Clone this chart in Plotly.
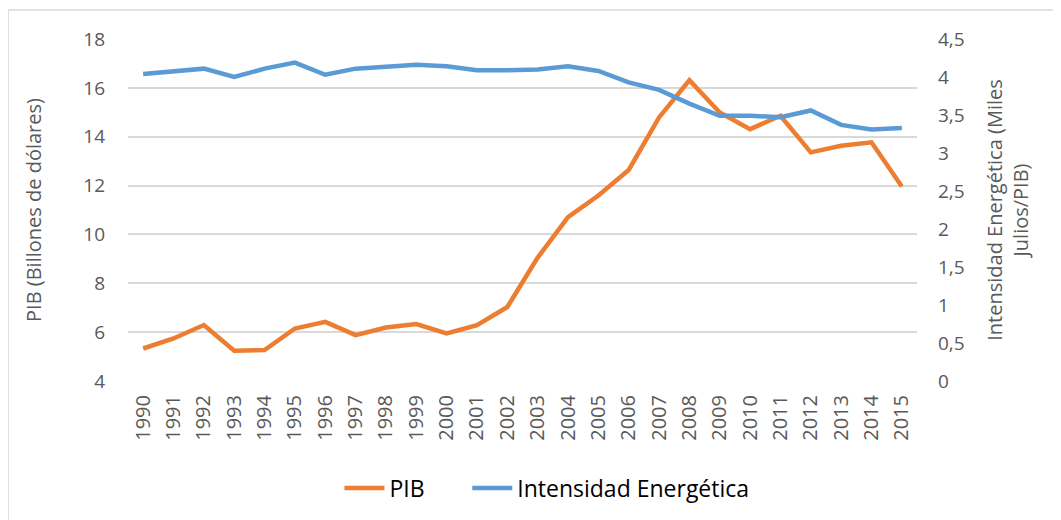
import plotly.graph_objects as go

years = [str(y) for y in range(1990, 2016)]
pib = [5.33, 5.74, 6.29, 5.24, 5.27, 6.15, 6.42, 5.88, 6.19, 6.33, 5.95, 6.29, 7.03,
       9.05, 10.71, 11.59, 12.64, 14.79, 16.31, 14.99, 14.31, 14.86, 13.36, 13.63, 13.77, 11.96]
intensidad = [4.04, 4.08, 4.11, 4.00, 4.11, 4.19, 4.03, 4.11, 4.14, 4.16, 4.14, 4.09, 4.09,
              4.10, 4.14, 4.08, 3.93, 3.83, 3.65, 3.49, 3.49, 3.47, 3.56, 3.37, 3.31, 3.33]
left_ticks = [4, 6, 8, 10, 12, 14, 16, 18]
right_ticks = [0, 0.5, 1, 1.5, 2, 2.5, 3, 3.5, 4, 4.5]
right_labels = ["0", "0,5", "1", "1,5", "2", "2,5", "3", "3,5", "4", "4,5"]

FONT = "Open Sans"
GREY = "#595959"

fig = go.Figure()
fig.add_trace(go.Scatter(x=years, y=pib, name="PIB", mode="lines",
                         line=dict(color="#ED7D31", width=4.5), yaxis="y",
                         legend="legend"))
fig.add_trace(go.Scatter(x=years, y=intensidad, name="Intensidad Energética", mode="lines",
                         line=dict(color="#5B9BD5", width=4.5), yaxis="y2",
                         legend="legend2"))

leg_common = dict(orientation="h", xanchor="left", y=-0.25, yanchor="top",
                  font=dict(family=FONT, size=23, color="#000000"),
                  itemwidth=40, bgcolor="rgba(0,0,0,0)")

fig.update_layout(
    width=1053, height=512,
    margin=dict(l=120, r=144, t=31, b=139, autoexpand=False),
    paper_bgcolor="white", plot_bgcolor="white",
    font=dict(family=FONT, color=GREY, size=18),
    showlegend=True,
    legend=dict(x=0.268, **leg_common),
    legend2=dict(x=0.43, **leg_common),
    xaxis=dict(type="category", tickangle=-90, showgrid=False, zeroline=False,
               showline=False, ticks="", tickfont=dict(size=20, color=GREY),
               range=[-0.5, 25.5], automargin=False, ticklabelstandoff=9),
    yaxis=dict(range=[4, 18], tickvals=left_ticks, showgrid=True, gridcolor="#D9D9D9",
               gridwidth=1.5, zeroline=False, showline=False, ticks="",
               ticklabelstandoff=22, automargin=False,
               tickfont=dict(size=19, color=GREY),
               title=dict(text="PIB (Billones de dólares)", font=dict(size=20, color=GREY),
                          standoff=36)),
    yaxis2=dict(range=[0, 4.5], tickvals=right_ticks, ticktext=right_labels,
                overlaying="y", side="right", showgrid=False, zeroline=False,
                showline=False, ticks="", ticklabelstandoff=20, automargin=False,
                tickfont=dict(size=19, color=GREY),
                title=dict(text="Intensidad Energética (Miles<br>Julios/PIB)",
                           font=dict(size=20, color=GREY), standoff=24)),
    shapes=[dict(type="rect", xref="paper", yref="paper",
                 x0=-0.152, x1=1.2, y0=-0.45, y1=1.0848,
                 line=dict(color="#D9D9D9", width=1.5), fillcolor="rgba(0,0,0,0)",
                 layer="below")],
)

fig.write_html("out.html")
